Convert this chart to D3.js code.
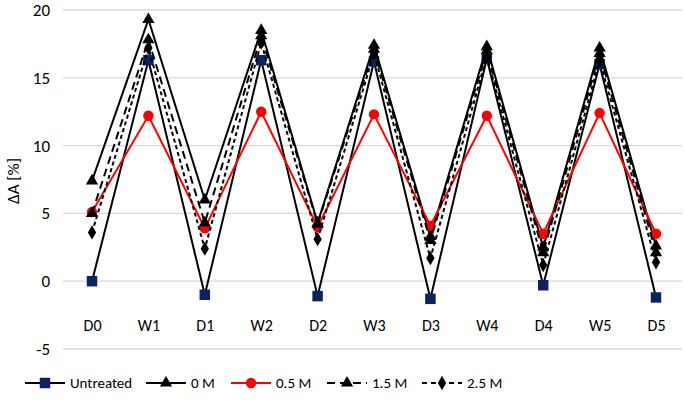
<!DOCTYPE html>
<html><head><meta charset="utf-8">
<script src="https://cdn.jsdelivr.net/npm/d3@7"></script>
<style>body{margin:0;background:#fff}svg{display:block}text{font-family:Carlito,Calibri,"Open Sans","Liberation Sans",sans-serif;fill:#000}</style>
</head><body><svg id="c" width="685" height="400"></svg>
<script>
const categories = ["D0","W1","D1","W2","D2","W3","D3","W4","D4","W5","D5"];
const untreated = [0, 16.3, -1.0, 16.3, -1.1, 16.2, -1.3, 16.4, -0.3, 16.0, -1.2];
const m0   = [7.4, 19.3, 6.0, 18.5, 4.3, 17.4, 3.3, 17.3, 2.5, 17.2, 2.6];
const m05  = [5.1, 12.2, 3.9, 12.5, 4.0, 12.3, 4.1, 12.2, 3.5, 12.4, 3.5];
const m15  = [5.0, 17.8, 4.3, 18.1, 4.2, 17.1, 3.0, 17.0, 2.1, 16.8, 2.1];
const m25  = [3.6, 17.2, 2.4, 17.6, 3.1, 16.8, 1.7, 16.6, 1.2, 16.3, 1.4];
const yTicks = [-5, 0, 5, 10, 15, 20];
const seriesNames = ["Untreated","0 M","0.5 M","1.5 M","2.5 M"];

const series = [
  {name: seriesNames[0], values: untreated, color:"#000", dash:null, ldash:null, marker:"square", mcolor:"#0a2463"},
  {name: seriesNames[1], values: m0, color:"#000", dash:null, ldash:null, marker:"triangle", mcolor:"#000"},
  {name: seriesNames[2], values: m05, color:"#ff0000", dash:null, ldash:null, marker:"circle", mcolor:"#ff0000"},
  {name: seriesNames[3], values: m15, color:"#000", dash:"8,5", ldash:"8,5", marker:"triangle", mcolor:"#000"},
  {name: seriesNames[4], values: m25, color:"#000", dash:"4,3", ldash:"5,4", marker:"diamond", mcolor:"#000"}
];

const svg = d3.select("#c");
const x = d3.scalePoint().domain(categories).range([92, 656]);
const y = d3.scaleLinear().domain([-5, 20]).range([349, 10]);

// grid
svg.append("g").selectAll("line").data(yTicks).join("line")
  .attr("x1", 63).attr("x2", 682)
  .attr("y1", d => y(d)).attr("y2", d => y(d))
  .attr("stroke", "#d9d9d9").attr("stroke-width", 1.3);

const yAxis = svg.append("g").attr("transform","translate(63,0)")
  .call(d3.axisLeft(y).tickValues(yTicks).tickSize(0).tickPadding(13).tickFormat(d => String(d)));
yAxis.select(".domain").remove();
yAxis.selectAll("text").style("font-size","17px").attr("fill","#000");

const xAxis = svg.append("g").attr("transform","translate(0,326)")
  .call(d3.axisBottom(x).tickSize(0).tickPadding(0));
xAxis.select(".domain").remove();
xAxis.selectAll("text").style("font-size","16px").attr("fill","#000").attr("dy","0.32em");

svg.append("text").attr("transform","translate(19,181) rotate(-90)")
  .attr("text-anchor","middle").style("font-size","17px").text("ΔA [%]");

const symMap = {square: d3.symbolSquare, triangle: d3.symbolTriangle, circle: d3.symbolCircle, diamond: d3.symbolDiamond};
const sizeMap = {square: 110, triangle: 65, circle: 85, diamond: 60};

const line = d3.line().x((d,i) => x(categories[i])).y(d => y(d));
series.forEach(s => {
  const g = svg.append("g");
  g.append("path").datum(s.values).attr("d", line)
    .attr("fill","none").attr("stroke", s.color).attr("stroke-width", 2)
    .attr("stroke-dasharray", s.dash);
  g.selectAll("path.m").data(s.values).join("path").attr("class","m")
    .attr("transform", (d,i) => `translate(${x(categories[i])},${y(d)})`)
    .attr("d", d3.symbol().type(symMap[s.marker]).size(sizeMap[s.marker]))
    .attr("fill", s.mcolor);
});

// legend
const legX = [25, 146, 231, 327, 422];
const leg = svg.append("g").attr("transform","translate(0,383)");
series.forEach((s, i) => {
  const g = leg.append("g").attr("transform", `translate(${legX[i]},0)`);
  g.append("line").attr("x1",0).attr("x2",40).attr("y1",0).attr("y2",0)
    .attr("stroke", s.color).attr("stroke-width", 2).attr("stroke-dasharray", s.ldash);
  g.append("path").attr("transform","translate(20,0)")
    .attr("d", d3.symbol().type(symMap[s.marker]).size(sizeMap[s.marker]))
    .attr("fill", s.mcolor);
  g.append("text").attr("x", 45).attr("y", 0).attr("dy","0.35em")
    .style("font-size","15px").text(s.name);
});
</script></body></html>
